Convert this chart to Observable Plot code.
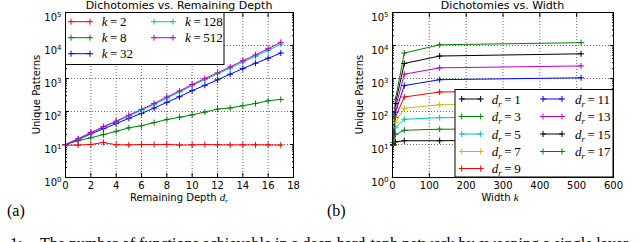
<!DOCTYPE html>
<html><head><meta charset="utf-8">
<script src="https://cdn.jsdelivr.net/npm/d3@7"></script>
<script src="https://cdn.jsdelivr.net/npm/@observablehq/plot@0.6"></script>
<style>
body{margin:0;background:#fff;}
#fig{position:relative;width:640px;height:242px;overflow:hidden;background:#fff;}
#fig svg{position:absolute;top:0;}
</style></head><body><div id="fig"></div>
<script>
// ---------- data ----------
const depthSteps = [0,1,2,3,4,5,6,7,8,9,10,11,12,13,14,15,16,17];
const widthK2   = [9.5,9.6,10,11.5,9.8,9.7,10,10,10.1,9.6,9.7,10,9.8,9.7,9.7,9.8,9.7,9.6];
const widthK8   = [10,13,16,20,25,32,37,46,57,67,79,96,118,128,150,175,212,232];
const widthK32  = [10,14,21,30,43,62,88,127,190,280,430,620,910,1350,2000,2900,4100,5900];
const widthK128 = [10,14.5,22,34,49,73,110,165,255,390,610,920,1380,2050,3150,4700,7100,11000];
const widthK512 = [10,15,23,35,51,77,116,175,275,420,660,1000,1480,2250,3450,5200,8000,12500];

const widths = [2,8,32,128,512];
const depthR1  = [9.6,12,13,13,14];
const depthR3  = [11.5,20,27,29,30];
const depthR5  = [9.7,32,58,65,70];
const depthR7  = [10,46,125,160,175];
const depthR9  = [9.6,67,275,390,430];
const depthR11 = [10,96,610,920,1050];
const depthR13 = [9.8,128,1350,2100,2400];
const depthR15 = [9.8,175,2850,4800,5600];
const depthR17 = [9.6,232,5900,10500,12200];

const xTicksA = [0,2,4,6,8,10,12,14,16,18];
const xTicksB = [0,100,200,300,400,500,600];
const yTicks = [1,10,100,1000,10000,100000];
const yTickLabels = ["10^0","10^1","10^2","10^3","10^4","10^5"];
const yMinor = [2,3,4,5,6,7,8,9,20,30,40,50,60,70,80,90,200,300,400,500,600,700,800,900,
  2000,3000,4000,5000,6000,7000,8000,9000,20000,30000,40000,50000,60000,70000,80000,90000];

const titleA = "Dichotomies vs. Remaining Depth";
const titleB = "Dichotomies vs. Width";
const yLabel = "Unique Patterns";

const seriesA = [
  {k:"2",   color:"#ff0000", values:widthK2},
  {k:"8",   color:"#008000", values:widthK8},
  {k:"32",  color:"#0000ff", values:widthK32},
  {k:"128", color:"#00bfbf", values:widthK128},
  {k:"512", color:"#bf00bf", values:widthK512}
];
const seriesB = [
  {d:"1",  color:"#000000", values:depthR1},
  {d:"3",  color:"#008000", values:depthR3},
  {d:"5",  color:"#00bfbf", values:depthR5},
  {d:"7",  color:"#bfbf00", values:depthR7},
  {d:"9",  color:"#ff0000", values:depthR9},
  {d:"11", color:"#0000ff", values:depthR11},
  {d:"13", color:"#bf00bf", values:depthR13},
  {d:"15", color:"#000000", values:depthR15},
  {d:"17", color:"#008000", values:depthR17}
];

const rowsA = seriesA.flatMap(s => depthSteps.map((d,i) => ({x:d, y:s.values[i], s:s.k, c:s.color})));
const rowsB = seriesB.flatMap(s => widths.map((w,i) => ({x:w, y:s.values[i], s:s.d, c:s.color})));

const fig = document.getElementById("fig");

function panel(rows, xDomain, xTicks, mL){
  const grid = {stroke:"#000", strokeOpacity:0.75, strokeDasharray:"1,2", strokeWidth:0.8};
  const tk = {tickFormat: () => "", label:null};
  const p = Plot.plot({
    width:320, height:242,
    marginLeft:mL, marginRight:27, marginTop:12, marginBottom:65,
    style:{fontFamily:"DejaVu Sans", fontSize:"10px", background:"transparent", color:"#000"},
    x:{domain:xDomain},
    y:{type:"log", domain:[1,1e5]},
    color:{type:"identity"},
    marks:[
      Plot.gridX(xTicks, grid),
      Plot.gridY(yTicks, grid),
      Plot.axisX(xTicks, {tickSize:0, tickPadding:4, label:null}),
      Plot.axisY(yTicks, {tickSize:0, tickPadding:4, label:null, tickFormat:(d)=>yTickLabels[yTicks.indexOf(d)]}),
      Plot.axisX(xTicks, {anchor:"bottom", tickSize:-4, ...tk}),
      Plot.axisX(xTicks, {anchor:"top", tickSize:-4, ...tk}),
      Plot.axisY(yTicks, {anchor:"left", tickSize:-4, ...tk}),
      Plot.axisY(yTicks, {anchor:"right", tickSize:-4, ...tk}),
      Plot.axisY(yMinor, {anchor:"left", tickSize:-2, ...tk}),
      Plot.axisY(yMinor, {anchor:"right", tickSize:-2, ...tk}),
      Plot.line(rows, {x:"x", y:"y", z:"s", stroke:"c", strokeWidth:1}),
      Plot.dot(rows, {x:"x", y:"y", stroke:"c", symbol:"plus", r:2.1, strokeWidth:1}),
      Plot.frame({stroke:"#000", strokeWidth:1})
    ]
  });
  // superscript tick labels
  d3.select(p).selectAll('g[aria-label="y-axis tick label"] text').each(function(){
    const t = this.textContent;
    if (!t.includes("^")) return;
    const [b,e] = t.split("^");
    const sel = d3.select(this).text("").attr("dy","0.5em");
    sel.append("tspan").text(b);
    sel.append("tspan").attr("dy","-3.5").attr("font-size","7px").text(e);
  });
  return p;
}

const pA = panel(rowsA, [0,18], xTicksA, 65);
pA.style.left = "0px";
fig.appendChild(pA);
const pB = panel(rowsB, [0,600], xTicksB, 72);
pB.style.left = "320px";
fig.appendChild(pB);

// ---------- annotations ----------
const ov = d3.create("svg").attr("width",640).attr("height",242)
  .style("position","absolute").style("left","0px").style("top","0px");
fig.appendChild(ov.node());

const sans = "DejaVu Sans";
const serif = "Liberation Serif";

ov.append("text").attr("x",179).attr("y",9).attr("text-anchor","middle")
  .attr("font-family",sans).attr("font-size",11).text(titleA);
ov.append("text").attr("x",502.5).attr("y",9).attr("text-anchor","middle")
  .attr("font-family",sans).attr("font-size",11).text(titleB);

[[39.5],[363]].forEach(([x]) => {
  ov.append("text").attr("transform",`translate(${x},94.5) rotate(-90)`).attr("text-anchor","middle")
    .attr("font-family",sans).attr("font-size",10).text(yLabel);
});

const xlA = ov.append("text").attr("x",179).attr("y",201).attr("text-anchor","middle")
  .attr("font-family",sans).attr("font-size",10);
xlA.append("tspan").text("Remaining Depth ");
xlA.append("tspan").attr("font-family",serif).attr("font-style","italic").attr("font-size",11).text("d");
xlA.append("tspan").attr("font-family",serif).attr("font-style","italic").attr("font-size",7).attr("dy",2).text("r");

const xlB = ov.append("text").attr("x",500).attr("y",201).attr("text-anchor","middle")
  .attr("font-family",sans).attr("font-size",10);
xlB.append("tspan").text("Width ");
xlB.append("tspan").attr("font-family",serif).attr("font-style","italic").attr("font-size",11).text("k");

function plusAt(g, x, y, color){
  g.append("path").attr("d",`M${x-3},${y}H${x+3}M${x},${y-3}V${y+3}`).attr("stroke",color).attr("stroke-width",1).attr("fill","none");
}
function legend(box, entries, label){
  const g = ov.append("g");
  g.append("rect").attr("x",box.x).attr("y",box.y).attr("width",box.w).attr("height",box.h)
    .attr("fill","#fff").attr("stroke","#000").attr("stroke-width",1);
  entries.forEach((e,i) => {
    const col = i < box.perCol ? 0 : 1;
    const row = col === 0 ? i : i - box.perCol;
    const y = box.rows[row];
    const lx = box.lineX[col];
    g.append("line").attr("x1",lx).attr("x2",lx+19).attr("y1",y).attr("y2",y)
      .attr("stroke",e.color).attr("stroke-width",1);
    plusAt(g, lx, y, e.color); plusAt(g, lx+19, y, e.color);
    const t = g.append("text").attr("x",box.textX[col]).attr("y",y+4.5)
      .attr("font-family",serif).attr("font-size",13);
    label(t, e);
  });
}
legend({x:65.5,y:12.5,w:158.5,h:52,perCol:3,rows:[21.7,37.7,53.7],lineX:[71,154],textX:[101.7,185]},
  seriesA, (t,e) => {
    t.append("tspan").attr("font-style","italic").text("k");
    t.append("tspan").text("\u2009=\u2009" + e.k);
  });
legend({x:455,y:89.5,w:158,h:87.5,perCol:5,rows:[99,116.5,134,151.5,168.5],lineX:[461.7,543],textX:[491.7,575]},
  seriesB, (t,e) => {
    t.append("tspan").attr("font-style","italic").text("d");
    t.append("tspan").attr("font-style","italic").attr("font-size",9).attr("dy",3).text("r");
    t.append("tspan").attr("dy",-3).text("\u2009=\u2009" + e.d);
  });

ov.append("text").attr("x",7).attr("y",216).attr("font-family",serif).attr("font-size",16).text("(a)");
ov.append("text").attr("x",327).attr("y",216).attr("font-family",serif).attr("font-size",16).text("(b)");
const cap = ov.append("text").attr("y",249).attr("font-family",serif).attr("font-size",16);
cap.append("tspan").attr("x",10).text("1:");
cap.append("tspan").attr("x",40).text("The number of functions achievable in a deep hard-tanh network by sweeping a single layer");
</script>
</body></html>
